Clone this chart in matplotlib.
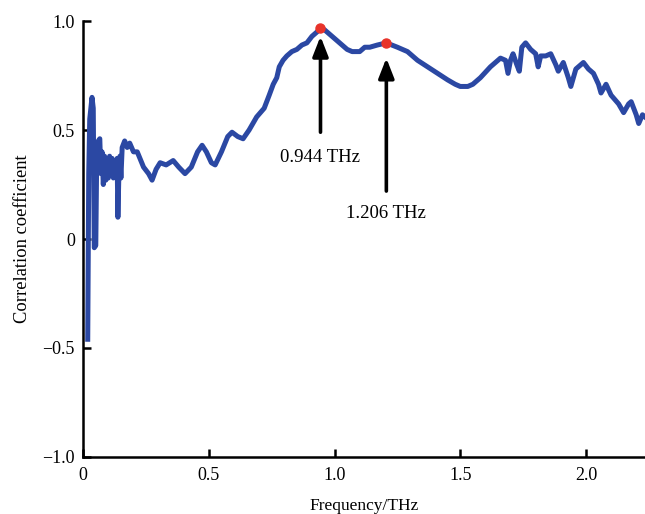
import matplotlib
matplotlib.use("Agg")
import matplotlib.pyplot as plt

freq = [0.018, 0.022, 0.026, 0.035, 0.040, 0.044, 0.050, 0.054, 0.060, 0.066,
        0.070, 0.075, 0.080, 0.085, 0.090, 0.095, 0.100, 0.105, 0.110, 0.115,
        0.120, 0.125, 0.130, 0.135, 0.138, 0.142, 0.146, 0.150, 0.155, 0.165,
        0.175, 0.185, 0.200, 0.215, 0.240, 0.260, 0.274, 0.290, 0.306, 0.330,
        0.358, 0.380, 0.405, 0.430, 0.455, 0.473, 0.490, 0.510, 0.525, 0.550,
        0.575, 0.592, 0.615, 0.636, 0.660, 0.690, 0.720, 0.740, 0.756, 0.770,
        0.780, 0.795, 0.810, 0.830, 0.850, 0.870, 0.890, 0.910, 0.930, 0.944,
        0.960, 0.980, 1.000, 1.020, 1.050, 1.070, 1.100, 1.120, 1.140,
        1.170, 1.206, 1.250, 1.290, 1.330, 1.370, 1.410, 1.450, 1.480, 1.500,
        1.530, 1.550, 1.580, 1.620, 1.660, 1.680, 1.690, 1.700, 1.710, 1.725,
        1.735, 1.745, 1.760, 1.780, 1.800, 1.810, 1.820, 1.840, 1.860, 1.880,
        1.890, 1.910, 1.930, 1.940, 1.960, 1.990, 2.010, 2.030, 2.050, 2.060,
        2.080, 2.100, 2.130, 2.150, 2.170, 2.180, 2.200, 2.210, 2.225, 2.235]
corr = [-0.46, 0.30, 0.55, 0.65, 0.60, -0.04, -0.03, 0.40, 0.45, 0.46,
        0.30, 0.40, 0.25, 0.38, 0.27, 0.37, 0.28, 0.38, 0.30, 0.37,
        0.28, 0.36, 0.30, 0.37, 0.10, 0.30, 0.38, 0.28, 0.42, 0.45,
        0.42, 0.44, 0.40, 0.40, 0.33, 0.30, 0.27, 0.32, 0.35, 0.34,
        0.36, 0.33, 0.30, 0.33, 0.40, 0.43, 0.40, 0.35, 0.34, 0.40,
        0.47, 0.49, 0.47, 0.46, 0.50, 0.56, 0.60, 0.66, 0.71, 0.74,
        0.79, 0.82, 0.84, 0.86, 0.87, 0.89, 0.90, 0.93, 0.95, 0.97,
        0.96, 0.94, 0.92, 0.90, 0.87, 0.86, 0.86, 0.88, 0.88,
        0.89, 0.90, 0.88, 0.86, 0.82, 0.79, 0.76, 0.73, 0.71, 0.70,
        0.70, 0.71, 0.74, 0.79, 0.83, 0.82, 0.76, 0.82, 0.85, 0.80,
        0.77, 0.88, 0.90, 0.87, 0.85, 0.79, 0.84, 0.84, 0.85, 0.80,
        0.77, 0.81, 0.74, 0.70, 0.78, 0.81, 0.78, 0.76, 0.71, 0.67,
        0.71, 0.66, 0.62, 0.58, 0.62, 0.63, 0.57, 0.53, 0.57, 0.56]

peak_freq = [0.944, 1.206]
peak_corr = [0.97, 0.90]
peak_labels = ["0.944 THz", "1.206 THz"]
arrow_tail = [0.49, 0.22]
arrow_head = [0.93, 0.83]
label_y = [0.375, 0.115]

xticks = [0, 0.5, 1.0, 1.5, 2.0]
xticklabels = ["0", "0.5", "1.0", "1.5", "2.0"]
yticks = [-1.0, -0.5, 0, 0.5, 1.0]
yticklabels = ["\u22121.0", "\u22120.5", "0", "0.5", "1.0"]

plt.rcParams['font.family'] = ['Liberation Serif', 'DejaVu Serif']

fig = plt.figure(figsize=(6.45, 5.14), dpi=100)
ax = fig.add_axes([0.129, 0.111, 0.871, 0.848])

ax.plot(freq, corr, color='#2b48a3', lw=3.6, solid_joinstyle='round')
ax.plot(peak_freq, peak_corr, 'o', color='#e8332a', ms=6.5, zorder=5)

for f, t, h, lab, ly in zip(peak_freq, arrow_tail, arrow_head, peak_labels, label_y):
    ax.annotate('', xy=(f, h), xytext=(f, t),
                arrowprops=dict(arrowstyle='-|>,head_length=1.2,head_width=0.47',
                                color='black', lw=2.6, shrinkA=0, shrinkB=0))
    ax.text(f, ly, lab, ha='center', va='center', fontsize=13.5)

ax.set_xlim(0, 2.235)
ax.set_ylim(-1.0, 1.0)
ax.set_xticks(xticks)
ax.set_xticklabels(xticklabels)
ax.set_yticks(yticks)
ax.set_yticklabels(yticklabels)
ax.tick_params(direction='in', length=6, width=1.8, labelsize=13)
ax.tick_params(axis='x', pad=7)
ax.tick_params(axis='y', pad=6)
for s in ['top', 'right']:
    ax.spines[s].set_visible(False)
for s in ['left', 'bottom']:
    ax.spines[s].set_linewidth(1.8)
ax.set_xlabel('Frequency/THz', fontsize=12.5, labelpad=10)
ax.set_ylabel('Correlation coefficient', fontsize=13.3, labelpad=8)

fig.savefig('out.png', dpi=100)
